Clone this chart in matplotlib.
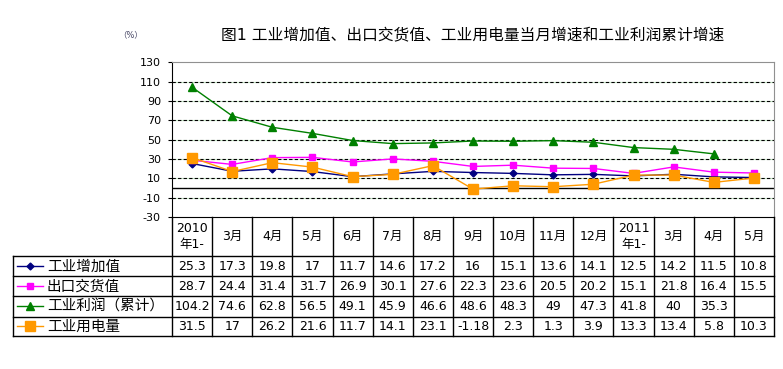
import matplotlib
matplotlib.use("Agg")
import matplotlib.pyplot as plt
import numpy as np

plt.rcParams['font.family'] = ['DejaVu Sans', 'Noto Sans CJK SC']

months = ["2010\n年1-", "3月", "4月", "5月", "6月", "7月", "8月", "9月", "10月",
          "11月", "12月", "2011\n年1-", "3月", "4月", "5月"]
value_added = [25.3, 17.3, 19.8, 17, 11.7, 14.6, 17.2, 16, 15.1, 13.6, 14.1, 12.5, 14.2, 11.5, 10.8]
export_delivery = [28.7, 24.4, 31.4, 31.7, 26.9, 30.1, 27.6, 22.3, 23.6, 20.5, 20.2, 15.1, 21.8, 16.4, 15.5]
profit_cum = [104.2, 74.6, 62.8, 56.5, 49.1, 45.9, 46.6, 48.6, 48.3, 49, 47.3, 41.8, 40, 35.3, None]
electricity = [31.5, 17, 26.2, 21.6, 11.7, 14.1, 23.1, -1.18, 2.3, 1.3, 3.9, 13.3, 13.4, 5.8, 10.3]
series_names = ["工业增加值", "出口交货值", "工业利润（累计）", "工业用电量"]
yticks = [-30, -10, 10, 30, 50, 70, 90, 110, 130]
title = "图1 工业增加值、出口交货值、工业用电量当月增速和工业利润累计增速"

W, H = 783, 369
fig = plt.figure(figsize=(W / 100, H / 100), dpi=100)

L, R, T, B = 172, 774, 62.3, 217
ax = fig.add_axes([L / W, 1 - B / H, (R - L) / W, (B - T) / H])
n = len(months)
x = np.arange(n)
ax.set_xlim(-0.5, n - 0.5)
ax.set_ylim(-30, 130)

# gridlines
for y in yticks[1:-1]:
    ax.axhline(y, color='#c8e8c8', lw=0.8, zorder=1)
    ax.axhline(y, color='black', lw=0.8, ls=(0, (3, 2)), zorder=1.1)
ax.axhline(0, color='black', lw=1.0, zorder=1.2)

styles = [
    dict(color='#000080', marker='D', ms=3.5),
    dict(color='#FF00FF', marker='s', ms=5),
    dict(color='#008000', marker='^', ms=6),
    dict(color='#FF9900', marker='s', ms=6.5),
]
data = [value_added, export_delivery, profit_cum, electricity]
for vals, st in zip(data, styles):
    v = np.array([np.nan if a is None else a for a in vals], dtype=float)
    ax.plot(x, v, color=st['color'], lw=1.0, marker=st['marker'], ms=st['ms'],
            mfc=st['color'], mec=st['color'], zorder=3)

ax.set_yticks(yticks)
ax.set_yticklabels([str(t) for t in yticks], fontsize=8)
ax.tick_params(axis='y', direction='out', length=3, pad=5, width=0.8)
ax.set_xticks([])
for s in ['top', 'right']:
    ax.spines[s].set_color('#909090')
for s in ['left', 'bottom']:
    ax.spines[s].set_color('black')

# table in pixel coordinates
tax = fig.add_axes([0, 0, 1, 1], zorder=5)
tax.set_xlim(0, W)
tax.set_ylim(H, 0)
tax.axis('off')
tax.patch.set_alpha(0)

cw = (R - L) / n
edges = [L + i * cw for i in range(n + 1)]
LL = 13
row_y = [B, 256, 276.3, 296.3, 316.5, 336]

# horizontal lines
for yv in row_y[1:]:
    tax.plot([LL, R], [yv, yv], color='black', lw=1.0)
# vertical lines
for e in edges:
    tax.plot([e, e], [B, row_y[-1]], color='black', lw=1.0)
tax.plot([LL, LL], [row_y[1], row_y[-1]], color='black', lw=1.0)

# header
for i, m in enumerate(months):
    cx = (edges[i] + edges[i + 1]) / 2
    tax.text(cx, (row_y[0] + row_y[1]) / 2, m, ha='center', va='center',
             fontsize=9, linespacing=1.3)

# rows
for r, (name, vals, st) in enumerate(zip(series_names, data, styles)):
    cy = (row_y[r + 1] + row_y[r + 2]) / 2
    tax.plot([17, 43], [cy, cy], color=st['color'], lw=1.0)
    tax.plot([30], [cy], marker=st['marker'], ms=st['ms'], color=st['color'])
    tax.text(47, cy, name, ha='left', va='center', fontsize=10.5)
    for i, v in enumerate(vals):
        if v is None:
            continue
        cx = (edges[i] + edges[i + 1]) / 2
        tax.text(cx, cy, f"{v:g}", ha='center', va='center', fontsize=9)

fig.text(473 / W, 1 - 36 / H, title, ha='center', va='center', fontsize=11.3)
fig.text(131 / W, 1 - 35 / H, "（%）", ha='center', va='center', fontsize=6, color='#404060')

fig.savefig("out.png", dpi=100)
